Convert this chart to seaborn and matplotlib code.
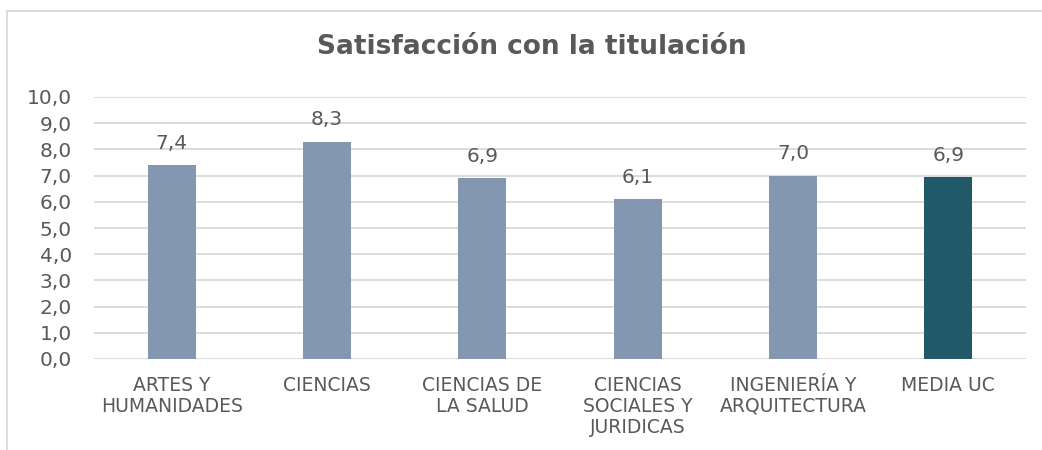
import matplotlib
matplotlib.use('Agg')
from matplotlib import pyplot as plt
from matplotlib.patches import Rectangle
import pandas as pd
import seaborn as sns

categories = ['ARTES Y\nHUMANIDADES', 'CIENCIAS', 'CIENCIAS DE\nLA SALUD',
              'CIENCIAS\nSOCIALES Y\nJURIDICAS', 'INGENIERÍA Y\nARQUITECTURA', 'MEDIA UC']
values = [7.4, 8.3, 6.9, 6.1, 7.0, 6.94]
colors = ['#8497B0', '#8497B0', '#8497B0', '#8497B0', '#8497B0', '#215968']
y_ticks = [0, 1, 2, 3, 4, 5, 6, 7, 8, 9, 10]

text_color = '#595959'
grid_color = '#d9d9d9'


def main():
    sns.set_style('white')
    plt.rcParams['font.family'] = ['DejaVu Sans']

    df = pd.DataFrame({'cat': categories, 'val': values})

    fig = plt.figure(figsize=(10.42, 4.5), dpi=100)
    ax = fig.add_axes([94 / 1042, 1 - 359 / 450, (1026 - 94) / 1042, (359 - 97) / 450])

    sns.barplot(data=df, x='cat', y='val', hue='cat', palette=colors,
                width=0.31, legend=False, ax=ax, saturation=1, linewidth=0)

    ax.set_ylim(0, 10)
    ax.set_xlim(-0.5, len(categories) - 0.5)
    ax.set_yticks(y_ticks)
    ax.set_yticklabels([f'{t:.1f}'.replace('.', ',') for t in y_ticks])
    ax.grid(axis='y', color=grid_color, linewidth=1.3)
    ax.set_axisbelow(True)
    for s in ax.spines.values():
        s.set_visible(False)
    ax.tick_params(axis='y', length=0, pad=16, labelsize=14.5, labelcolor=text_color)
    ax.tick_params(axis='x', length=0, pad=12, labelsize=13.5, labelcolor=text_color)
    for lbl in ax.get_xticklabels():
        lbl.set_linespacing(1.15)
    ax.set_xlabel('')
    ax.set_ylabel('')

    for c in ax.containers:
        ax.bar_label(c, labels=[f'{v:.1f}'.replace('.', ',') for v in c.datavalues],
                     padding=9, fontsize=14.5, color=text_color)

    fig.text(532 / 1042, 1 - 47 / 450, 'Satisfacción con la titulación',
             ha='center', va='center', fontsize=19, fontweight='bold', color=text_color)

    fig.patches.append(Rectangle((7 / 1042, -0.2), 1.2, 1.2 - 11 / 450,
                                 transform=fig.transFigure, fill=False,
                                 edgecolor=grid_color, linewidth=1.3, figure=fig))

    fig.savefig('out.png', dpi=100)


if __name__ == '__main__':
    main()
